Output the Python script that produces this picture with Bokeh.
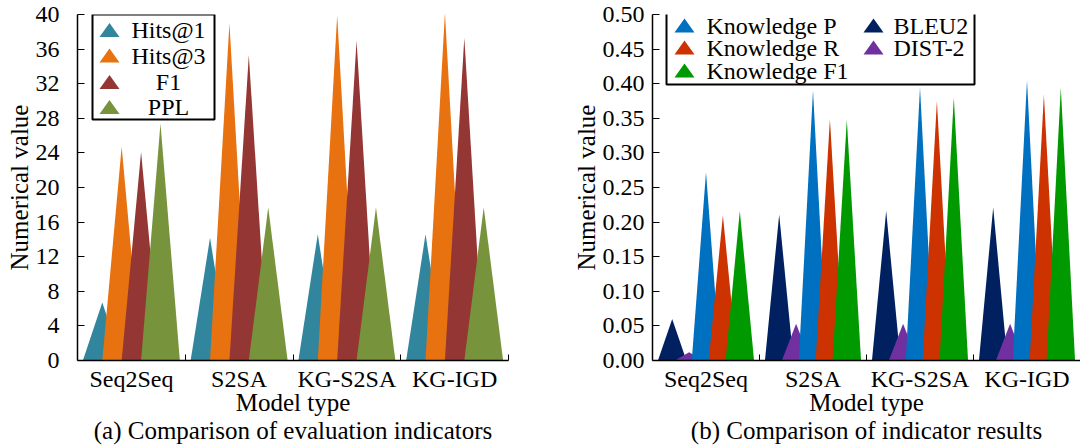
from bokeh.plotting import figure
from bokeh.layouts import row
from bokeh.models import (FixedTicker, NumeralTickFormatter, Title, Label,
                          BoxAnnotation, PolyAnnotation, Range1d)
from bokeh.embed import file_html
from bokeh.resources import INLINE

# ---------------- data ----------------
categories = ["Seq2Seq", "S2SA", "KG-S2SA", "KG-IGD"]

# (a) evaluation indicators
hits1 = [6.7, 14.2, 14.6, 14.6]
hits3 = [24.7, 39.0, 39.9, 40.2]
f1 = [24.1, 35.3, 37.0, 37.3]
ppl = [27.4, 17.7, 17.7, 17.7]
left_names = ["Hits@1", "Hits@3", "F1", "PPL"]
left_colors = ["#31859C", "#E8720F", "#943634", "#77933C"]

# (b) indicator results
bleu2 = [0.060, 0.211, 0.216, 0.221]
dist2 = [0.012, 0.053, 0.053, 0.053]
know_p = [0.272, 0.390, 0.395, 0.405]
know_r = [0.210, 0.349, 0.375, 0.384]
know_f1 = [0.216, 0.348, 0.380, 0.394]
right_names = ["BLEU2", "DIST-2", "Knowledge P", "Knowledge R", "Knowledge F1"]
right_colors = ["#002060", "#7030A0", "#0070C0", "#CC3300", "#009900"]

left_ticks = [0, 4, 8, 12, 16, 20, 24, 28, 32, 36, 40]
right_ticks = [0.0, 0.05, 0.10, 0.15, 0.20, 0.25, 0.30, 0.35, 0.40, 0.45, 0.50]

FONT = "Liberation Serif"
FS = "24px"
FS_T = "25px"
H = 447


def make_fig(width, bl, br, y_end, yticks, yfmt, ylab_standoff, subtitle):
    p = figure(width=width, height=H, output_backend="svg", toolbar_location=None,
               x_range=Range1d(-0.5, len(categories) - 0.5),
               y_range=Range1d(0, y_end),
               min_border_left=bl, min_border_right=br,
               min_border_top=14, min_border_bottom=87)
    p.grid.visible = False
    p.outline_line_color = None
    p.background_fill_color = "white"
    p.border_fill_color = "white"

    xa = p.xaxis[0]
    xa.ticker = FixedTicker(ticks=list(range(len(categories))),
                            minor_ticks=[i + 0.5 for i in range(len(categories))])
    xa.major_label_overrides = {i: c for i, c in enumerate(categories)}
    xa.major_tick_in = 0
    xa.major_tick_out = 0
    xa.minor_tick_in = 6
    xa.minor_tick_out = 0
    xa.minor_tick_line_color = "black"
    xa.axis_line_color = "black"
    xa.axis_line_width = 1.5
    xa.major_label_text_font = FONT
    xa.major_label_text_font_size = FS
    xa.major_label_text_color = "black"
    xa.major_label_standoff = 5
    xa.axis_label = "Model type"
    xa.axis_label_text_font = FONT
    xa.axis_label_text_font_size = FS_T
    xa.axis_label_text_font_style = "normal"
    xa.axis_label_text_color = "black"
    xa.axis_label_standoff = -6

    ya = p.yaxis[0]
    ya.ticker = FixedTicker(ticks=yticks)
    ya.formatter = NumeralTickFormatter(format=yfmt)
    ya.major_tick_in = 7
    ya.major_tick_out = 0
    ya.major_tick_line_color = "black"
    ya.minor_tick_line_color = None
    ya.axis_line_color = "black"
    ya.axis_line_width = 1.5
    ya.major_label_text_font = FONT
    ya.major_label_text_font_size = FS
    ya.major_label_text_color = "black"
    ya.major_label_standoff = ylab_standoff
    ya.axis_label = "Numerical value"
    ya.axis_label_text_font = FONT
    ya.axis_label_text_font_size = FS_T
    ya.axis_label_text_font_style = "normal"
    ya.axis_label_text_color = "black"
    ya.axis_label_standoff = 0

    t = Title(text=subtitle, align="center", text_font=FONT, text_font_size=FS_T,
              text_font_style="normal", text_color="black", standoff=-8)
    p.add_layout(t, "below")
    return p


def draw_triangles(p, series, colors, spacing, half_w):
    n = len(series)
    for i, (vals, col) in enumerate(zip(series, colors)):
        off = (i - (n - 1) / 2) * spacing
        xs, ys = [], []
        for c, v in enumerate(vals):
            xc = c + off
            xs.append([xc - half_w, xc, xc + half_w])
            ys.append([0, v, 0])
        p.patches(xs, ys, fill_color=col, line_color=None, fill_alpha=1)


# ---------------- (a) ----------------
p1 = make_fig(540, 77, 32, 40, left_ticks, "0", 18,
              "(a) Comparison of evaluation indicators")
draw_triangles(p1, [hits1, hits3, f1, ppl], left_colors, 0.18, 0.18)

# legend (a): layout positions in page pixels, converted to data units
fx1 = lambda px: (px - 77) / (431 / 4) - 0.5
fy1 = lambda py: (360 - py) / (346 / 40)
p1.add_layout(BoxAnnotation(left=fx1(92), right=fx1(214), top=fy1(14), bottom=fy1(119),
                            fill_color="white", fill_alpha=1, line_color="black",
                            line_alpha=1, line_width=2))
for name, col, yc in zip(left_names, left_colors, [29.5, 55, 81.5, 106.5]):
    p1.add_layout(PolyAnnotation(xs=[fx1(99), fx1(109), fx1(119)],
                                 ys=[fy1(yc + 7), fy1(yc - 7), fy1(yc + 7)],
                                 fill_color=col, fill_alpha=1, line_color=None))
    p1.add_layout(Label(x=fx1(168), y=fy1(yc), text=name, text_align="center",
                        text_baseline="middle", text_font=FONT, text_font_size=FS,
                        text_color="black"))

# ---------------- (b) ----------------
p2 = make_fig(540, 112, 0, 0.5, right_ticks, "0.00", 8,
              "(b) Comparison of indicator results")
draw_triangles(p2, [bleu2, dist2, know_p, know_r, know_f1], right_colors, 0.158, 0.133)

fx2 = lambda px: (px - 652) / (428 / 4) - 0.5
fy2 = lambda py: (360 - py) / (346 / 0.5)
p2.add_layout(BoxAnnotation(left=fx2(666), right=fx2(974), top=fy2(11), bottom=fy2(84),
                            fill_color="white", fill_alpha=1, line_color="black",
                            line_alpha=1, line_width=2))
legend_slots = [(2, 684, 706, 25), (3, 684, 706, 47), (4, 684, 706, 70),
                (0, 873, 893, 25), (1, 873, 893, 47)]
for idx, tx, lx, yc in legend_slots:
    p2.add_layout(PolyAnnotation(xs=[fx2(tx - 10), fx2(tx), fx2(tx + 10)],
                                 ys=[fy2(yc + 7), fy2(yc - 7), fy2(yc + 7)],
                                 fill_color=right_colors[idx], fill_alpha=1, line_color=None))
    p2.add_layout(Label(x=fx2(lx), y=fy2(yc), text=right_names[idx], text_align="left",
                        text_baseline="middle", text_font=FONT, text_font_size=FS,
                        text_color="black"))

layout = row(p1, p2)
open("out.html", "w").write(file_html(layout, INLINE))
